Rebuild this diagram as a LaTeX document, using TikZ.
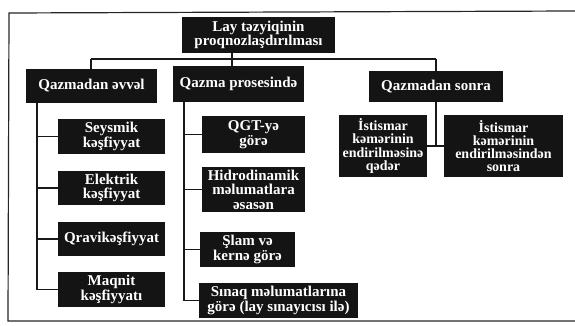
\documentclass[tikz,border=0pt]{standalone}
\usepackage{fontspec}
\setmainfont{Liberation Serif}
\begin{document}
\begin{tikzpicture}[x=1pt,y=-1pt,
  box/.style={fill=black!92, text=white, font=\bfseries\fontsize{15}{14.5}\selectfont, align=center, inner sep=0pt, draw=none},
  sbox/.style={box, font=\bfseries\fontsize{14}{13.2}\selectfont},
  link/.style={line width=1.3pt, draw=black!90},
  frame/.style={line width=1.2pt, draw=black!85}]
\useasboundingbox (0,0) rectangle (575,326);
\draw[frame] (575,11) -- (9,13) -- (8,321) -- (575,321);
% root and categories
\node[box, minimum width=153, minimum height=36] (root) at (258.5,35) {Lay təzyiqinin\\proqnozlaşdırılması};
\node[box, minimum width=131, minimum height=34] (c1) at (91.5,86) {Qazmadan əvvəl};
\node[box, minimum width=131, minimum height=36] (c2) at (238.5,84) {Qazma prosesində};
\node[box, minimum width=134, minimum height=31] (c3) at (436,86.5) {Qazmadan sonra};
% left column
\node[box, minimum width=107, minimum height=35] (a1) at (111.5,136.5) {Seysmik\\kəşfiyyat};
\node[box, minimum width=107, minimum height=34] (a2) at (111.5,188) {Elektrik\\kəşfiyyat};
\node[box, minimum width=107, minimum height=34] (a3) at (111.5,239) {Qravikəşfiyyat};
\node[box, minimum width=107, minimum height=35] (a4) at (111.5,289.5) {Maqnit\\kəşfiyyatı};
% middle column
\node[box, minimum width=103, minimum height=37] (b1) at (253.5,134.5) {QGT-yə\\görə};
\node[box, minimum width=103, minimum height=45] (b2) at (253.5,189.5) {Hidrodinamik\\məlumatlara\\əsasən};
\node[box, minimum width=95, minimum height=35] (b3) at (247.5,249.5) {Şlam və\\kernə görə};
\node[box, minimum width=159, minimum height=35] (b4) at (278.5,300.5) {Sınaq məlumatlarına\\görə (lay sınayıcısı ilə)};
% right column
\node[sbox, minimum width=88, minimum height=62] (d1) at (383,146) {İstismar\\kəmərinin\\endirilməsinə\\qədər};
\node[sbox, minimum width=119, minimum height=62] (d2) at (503.5,146) {İstismar\\kəmərinin\\endirilməsindən\\sonra};
% bus coordinates
\coordinate (busL) at (91,59);
\coordinate (busR) at (436,59);
\coordinate (stem) at (232,59);
\coordinate (lv) at (37,0);
\coordinate (mv) at (184,0);
% connectors
\draw[link] (busL) -- (busR);
\draw[link] (root.south -| stem) -- (c2.north -| stem);
\draw[link] (busL) -- (c1.north -| busL);
\draw[link] (busR) -- (c3.north -| busR);
\draw[link] (c1.south -| lv) |- (a4.west);
\draw[link] (a1.west -| lv) -- (a1.west);
\draw[link] (a2.west -| lv) -- (a2.west);
\draw[link] (a3.west -| lv) -- (a3.west);
\draw[link] (c2.south -| mv) |- (b4.west);
\draw[link] (b1.west -| mv) -- (b1.west);
\draw[link] (b2.west -| mv) -- (b2.west);
\draw[link] (b3.west -| mv) -- (b3.west);
\draw[link] (c3.south) -- (c3.south |- d1.east);
\draw[link] (d1.east) -- (d2.west);
\end{tikzpicture}
\end{document}
